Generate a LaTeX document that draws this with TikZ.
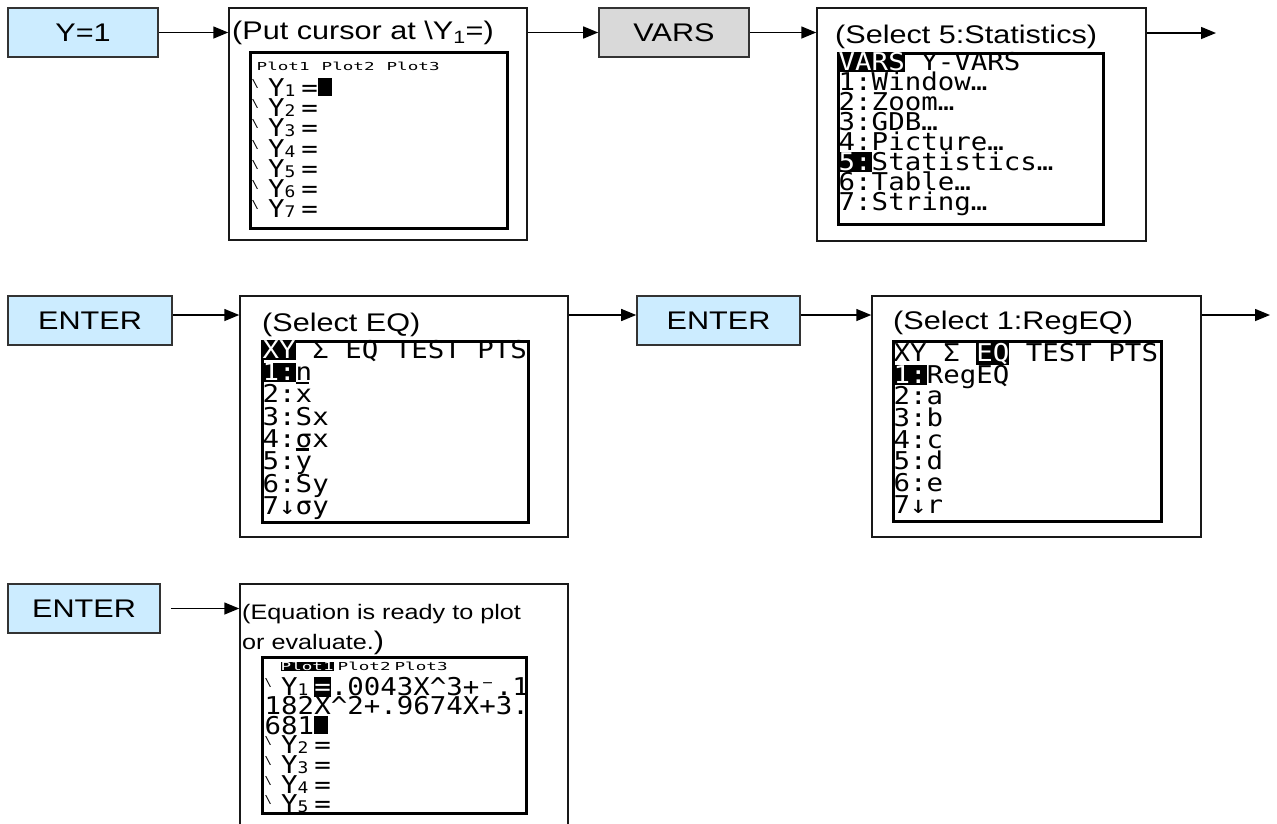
\documentclass[tikz,border=0pt]{standalone}
\usepackage{fontspec}
\setmainfont[FakeStretch=1.2]{Liberation Sans}
\newfontfamily\calcfont[FakeStretch=1.12]{DejaVu Sans Mono}
\newfontfamily\calcsmallfont[FakeStretch=1.6]{DejaVu Sans Mono}
\usepackage{xcolor}
\usepackage{tikz}
\usetikzlibrary{arrows.meta, positioning}

\definecolor{keyblue}{RGB}{204,236,255}
\definecolor{keygray}{RGB}{217,217,217}

% calculator screen helpers
\newlength{\tcell}
\newcommand{\calcsetup}[1]{\calcfont\fontsize{24.5}{#1}\selectfont\settowidth{\tcell}{0}%
  \setlength{\lineskiplimit}{-100pt}\setlength{\lineskip}{0pt}}
\newcommand{\tsmall}{\calcsmallfont\fontsize{11}{11}\selectfont}
\newcommand{\tinv}[1]{{\setlength{\fboxsep}{0pt}\colorbox{black}{\rule[-0.06em]{0pt}{0.8em}\textcolor{white}{#1}}}}
\newcommand{\tcur}{\makebox[\tcell][l]{\rule{14pt}{18pt}}}
\newcommand{\tbar}[1]{\makebox[\tcell][l]{\rlap{#1}\rule[19pt]{13pt}{2.4pt}}}
\newcommand{\tiY}[1]{\makebox[\tcell][l]{\raisebox{9pt}{\fontsize{11}{11}\selectfont\textbackslash}}Y%
  \makebox[\tcell][l]{\fontsize{16}{16}\selectfont #1}}

\tikzset{
  keybox/.style={
    draw=black!80, line width=1.6pt, fill=keyblue, inner sep=0pt,
    minimum width=150pt, minimum height=49pt,
    font=\fontsize{25.5}{30}\selectfont
  },
  stepbox/.style={draw=black!90, line width=1.5pt, fill=white, inner sep=0pt},
  screenbox/.style={draw=black, line width=3pt, inner sep=0pt},
  screentext/.style={
    anchor=north west, inner sep=0pt, align=left,
    font={\calcsetup{#1}}
  },
  captext/.style={anchor=west, inner sep=0pt, font=\fontsize{25.5}{30}\selectfont},
  steparrow/.style={-{Triangle[length=15pt,width=12pt]}, line width=1.5pt},
}

\begin{document}
\begin{tikzpicture}[x=1pt, y=-1pt]
  \useasboundingbox (0,0) rectangle (1277,823);
  \clip (0,0) rectangle (1277,823);

  % Row 1: Y= then VARS
  \node[keybox] (keyY) at (83,32.5) {Y=1};
  \node[stepbox, minimum width=298pt, minimum height=232pt] (stepA) at (378,124) {};
  \node[captext] (capA) at (232,33) {(Put cursor at \textbackslash Y\textsubscript{1}=)};
  \node[screenbox, minimum width=257pt, minimum height=176pt] (scrA) at (378.5,140) {};
  \node[screentext=20.3] (txtA) at ([xshift=3pt,yshift=-11.8pt]scrA.north west) {%
    {\tsmall\hspace*{5pt}Plot1\hspace{12pt}Plot2\hspace{12pt}Plot3}\\[4.9pt]
    \tiY{1}=\tcur\\
    \tiY{2}=\\
    \tiY{3}=\\
    \tiY{4}=\\
    \tiY{5}=\\
    \tiY{6}=\\
    \tiY{7}=};

  \node[keybox, fill=keygray] (keyVars) at (674,32.5) {VARS};
  \node[stepbox, minimum width=329pt, minimum height=233pt] (stepB) at (981.5,124.5) {};
  \node[captext] (capB) at (835,37) {(Select 5:Statistics)};
  \node[screenbox, minimum width=265pt, minimum height=171pt] (scrB) at (970.5,138.5) {};
  \node[screentext=20] (txtB) at ([xshift=2pt,yshift=-0.5pt]scrB.north west) {%
    \tinv{VARS} Y-VARS\\
    1:Window…\\
    2:Zoom…\\
    3:GDB…\\
    4:Picture…\\
    \tinv{5:}Statistics…\\
    6:Table…\\
    7:String…};
  \coordinate (outA) at (1216,33);

  % Row 2: ENTER, EQ menu, ENTER, RegEQ
  \node[keybox, minimum width=164pt] (keyE1) at (90,320.5) {ENTER};
  \node[stepbox, minimum width=328pt, minimum height=241pt] (stepC) at (404,416.5) {};
  \node[captext] (capC) at (262,325) {(Select EQ)};
  \node[screenbox, minimum width=266pt, minimum height=181pt] (scrC) at (395,431.5) {};
  \node[screentext=22.3] (txtC) at ([xshift=2pt,yshift=-0.5pt]scrC.north west) {%
    \tinv{XY} Σ EQ TEST PTS\\
    \tinv{1:}n\\
    2:\tbar{x}\\
    3:Sx\\
    4:σx\\
    5:\tbar{y}\\
    6:Sy\\
    7↓σy};

  \node[keybox, minimum width=163pt] (keyE2) at (718.5,320.5) {ENTER};
  \node[stepbox, minimum width=329pt, minimum height=241pt] (stepD) at (1036.5,416.5) {};
  \node[captext] (capD) at (893,323) {(Select 1:RegEQ)};
  \node[screenbox, minimum width=268pt, minimum height=180pt] (scrD) at (1027,431) {};
  \node[screentext=21.7] (txtD) at ([xshift=2pt,yshift=-3.5pt]scrD.north west) {%
    XY Σ \tinv{EQ} TEST PTS\\
    \tinv{1:}RegEQ\\
    2:a\\
    3:b\\
    4:c\\
    5:d\\
    6:e\\
    7↓r};
  \coordinate (outB) at (1270,315);

  % Row 3: ENTER, result
  \node[keybox, minimum width=152pt] (keyE3) at (84,608.5) {ENTER};
  \node[stepbox, minimum width=328pt, minimum height=256pt] (stepE) at (404,712) {};
  \node[anchor=north west, inner sep=0pt, align=left, font=\fontsize{21}{30}\selectfont] (capE) at (242,604.5)
    {(Equation is ready to plot\\or evaluate.{\fontsize{25.5}{30}\selectfont)}};
  \node[screenbox, minimum width=264pt, minimum height=156pt] (scrE) at (394,735) {};
  \node[screentext=19.6] (txtE) at ([xshift=4pt,yshift=-6.4pt]scrE.north west) {%
    {\tsmall\hspace*{16pt}\tinv{Plot1}\hspace{4pt}Plot2\hspace{4pt}Plot3}\\[5pt]
    \tiY{1}\tinv{=}.0043X\textasciicircum3+⁻.1\\
    182X\textasciicircum2+.9674X+3.\\
    681\tcur\\
    \tiY{2}=\\
    \tiY{3}=\\
    \tiY{4}=\\
    \tiY{5}=};

  % Arrows
  \draw[steparrow] (keyY.east) -- (keyY.east -| stepA.west);
  \draw[steparrow] (stepA.east |- keyVars.west) -- (keyVars.west);
  \draw[steparrow] (keyVars.east) -- (keyVars.east -| stepB.west);
  \draw[steparrow] (stepB.east |- outA) -- (outA);
  \draw[steparrow] (keyE1.east |- outB) -- (stepC.west |- outB);
  \draw[steparrow] (stepC.east |- outB) -- (keyE2.west |- outB);
  \draw[steparrow] (keyE2.east |- outB) -- (stepD.west |- outB);
  \draw[steparrow] (stepD.east |- outB) -- (outB);
  \draw[steparrow] ([xshift=10pt]keyE3.east) -- (keyE3.east -| stepE.west);
\end{tikzpicture}
\end{document}
